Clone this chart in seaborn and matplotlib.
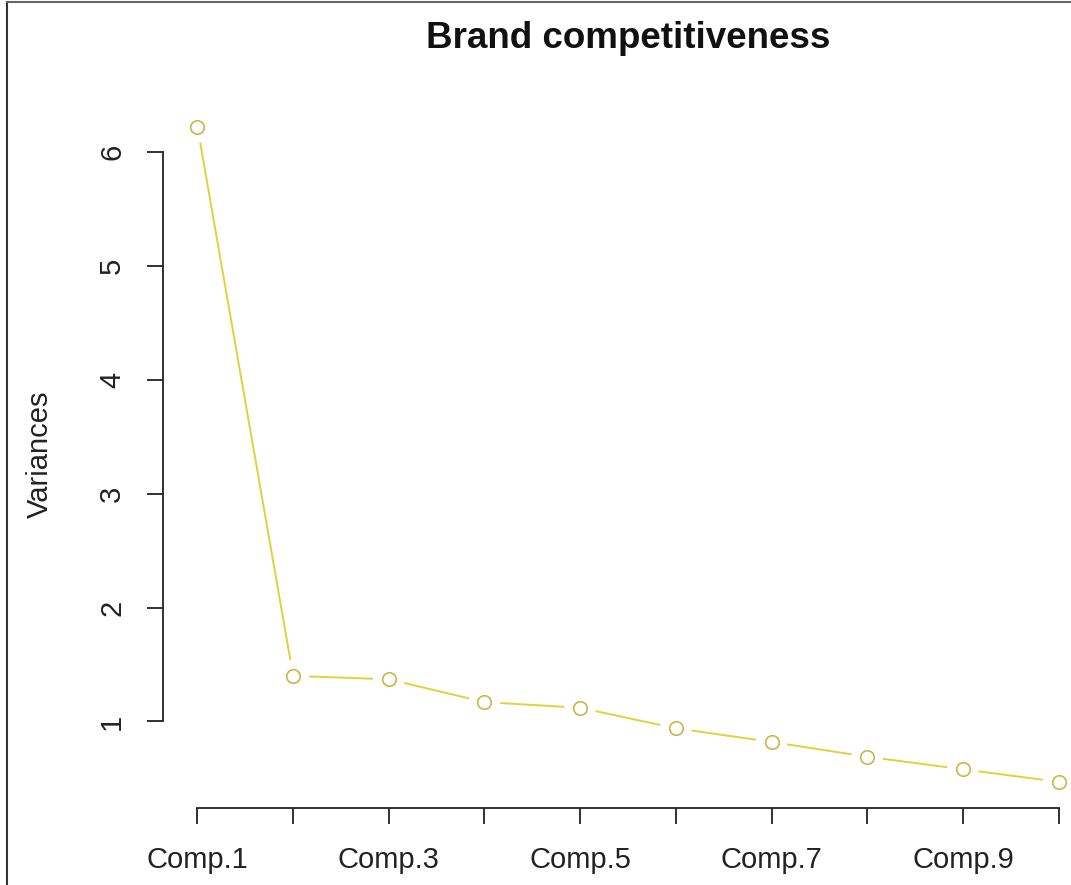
import numpy as np
import pandas as pd
import matplotlib
matplotlib.use("Agg")
import matplotlib.pyplot as plt
from matplotlib.lines import Line2D
import seaborn as sns

# ---- data ----
components = ["Comp.1", "Comp.2", "Comp.3", "Comp.4", "Comp.5",
              "Comp.6", "Comp.7", "Comp.8", "Comp.9", "Comp.10"]
variances = [6.22, 1.40, 1.37, 1.17, 1.12, 0.94, 0.82, 0.69, 0.58, 0.47]
tick_labels = ["Comp.1", "", "Comp.3", "", "Comp.5", "", "Comp.7", "", "Comp.9", ""]
y_ticks = [1, 2, 3, 4, 5, 6]
title = "Brand competitiveness"
ylabel = "Variances"

df = pd.DataFrame({"component": components,
                   "pos": np.arange(len(components)),
                   "variance": variances})

sns.set_theme(style="white")
plt.rcParams["font.family"] = ["Liberation Sans", "DejaVu Sans"]

W, H = 1071, 885
fig = plt.figure(figsize=(W / 100, H / 100), dpi=100)
ax = fig.add_axes([163 / W, 1 - 808 / H, (1093 - 163) / W, (808 - 101) / H])

line_col = "#E2D03C"
mark_col = "#CDB54A"

sns.lineplot(data=df, x="pos", y="variance", ax=ax, color=line_col,
             linewidth=1.4, zorder=2)
# white halos leave gaps around the points (R type="b")
sns.scatterplot(data=df, x="pos", y="variance", ax=ax, s=520,
                color="white", edgecolor="none", zorder=3)
sns.scatterplot(data=df, x="pos", y="variance", ax=ax, s=95,
                facecolor="white", edgecolor=mark_col, linewidth=1.2,
                zorder=4)

ax.set_xlim(-0.36, 9.36)
ax.set_ylim(0.240, 6.448)
ax.set_xticks(df["pos"])
ax.set_xticklabels(tick_labels)
ax.set_yticks(y_ticks)
ax.set_yticklabels([str(v) for v in y_ticks], rotation=90, va="center")
ax.set_xlabel("")
ax.set_ylabel(ylabel, fontsize=21, color="#222222")
ax.yaxis.set_label_coords((54 - 163) / 930, 0.5)

ax.tick_params(axis="both", which="major", direction="out", length=11.5,
               width=1.3, color="#222222", labelsize=21, labelcolor="#222222",
               bottom=True, left=True)
ax.tick_params(axis="x", pad=16)
ax.tick_params(axis="y", pad=15)
for s in ["left", "bottom"]:
    ax.spines[s].set_color("#222222")
    ax.spines[s].set_linewidth(1.3)
ax.grid(False)
sns.despine(ax=ax, trim=True)

ax.set_title(title, fontsize=26.5, fontweight="bold", pad=38, color="#111111")

# outer frame lines of the original screenshot
fig.add_artist(Line2D([7 / W, 7 / W], [0, 1 - 2 / H], transform=fig.transFigure,
                      color="#333333", linewidth=1.5))
fig.add_artist(Line2D([7 / W, 1], [1 - 2 / H, 1 - 2 / H], transform=fig.transFigure,
                      color="#666666", linewidth=1.5))

fig.savefig("out.png", dpi=100)
